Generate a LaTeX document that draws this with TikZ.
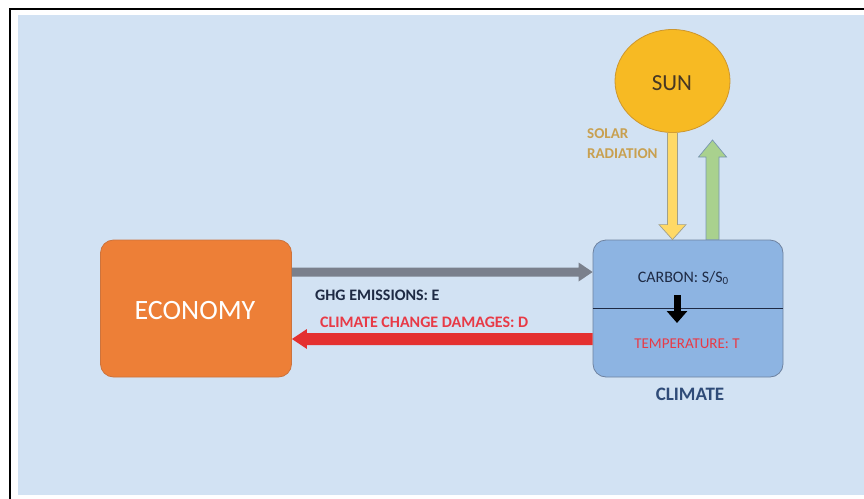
\documentclass[tikz,border=0pt]{standalone}
\usepackage{fontspec}
\setmainfont{Carlito}
\usetikzlibrary{calc,arrows.meta,shapes.geometric}
\definecolor{panel}{RGB}{210,226,243}
\definecolor{ecofill}{RGB}{237,127,55}
\definecolor{ecoline}{RGB}{205,115,60}
\definecolor{climfill}{RGB}{141,180,226}
\definecolor{climline}{RGB}{110,130,160}
\definecolor{sunfill}{RGB}{247,186,35}
\definecolor{sunline}{RGB}{205,150,45}
\definecolor{yfill}{RGB}{255,217,102}
\definecolor{yline}{RGB}{160,160,140}
\definecolor{gfill}{RGB}{169,209,142}
\definecolor{gline}{RGB}{120,150,175}
\definecolor{grayarr}{RGB}{122,128,140}
\definecolor{redarr}{RGB}{228,48,48}
\definecolor{navy}{RGB}{30,42,68}
\definecolor{climtxt}{RGB}{47,75,120}
\definecolor{suntxt}{RGB}{70,55,35}
\definecolor{solartxt}{RGB}{200,160,80}
\definecolor{redtxt}{RGB}{232,58,70}
\begin{document}
\begin{tikzpicture}[x=1pt,y=-1pt,
  box/.style={rounded corners=13pt, minimum width=191pt, minimum height=137pt, inner sep=0pt, line width=0.8pt},
  ecobox/.style={box, fill=ecofill, draw=ecoline},
  climbox/.style={box, fill=climfill, draw=climline, minimum width=190pt},
  lbl/.style={inner sep=0pt, font=\bfseries\fontsize{16}{20}\selectfont}
]
\useasboundingbox (0,0) rectangle (864,498);
\clip (0,0) rectangle (864,498);
\fill[white] (0,0) rectangle (864,498);
\draw[line width=2pt] (9.5,8.5) rectangle (890,530);
\fill[panel] (18,15) rectangle (880,495);

% nodes
\node[ecobox] (eco) at (196,308.5) {};
\node[inner sep=0pt, anchor=base, text=white, font=\fontsize{28}{30}\selectfont] (ecot) at (195,319) {ECONOMY};
\node[climbox] (clim) at (688,308.5) {};
\draw[line width=1.2pt, navy] (clim.west) -- (clim.east);
\node[ellipse, minimum width=115pt, minimum height=103pt, inner sep=0pt, fill=sunfill, draw=sunline, line width=0.8pt] (sun) at (672.5,81) {};
\node[inner sep=0pt, anchor=base, text=suntxt, font=\fontsize{23}{26}\selectfont] (sunt) at (672,90) {SUN};

\node[inner sep=0pt, anchor=base, text=navy, font=\fontsize{16}{18}\selectfont] (carb) at (683,282) {CARBON: S/S\raisebox{-2.5pt}{\fontsize{11}{11}\selectfont 0}};
\node[inner sep=0pt, anchor=base, text=redtxt, font=\fontsize{15}{18}\selectfont] (temp) at (687,348) {TEMPERATURE: T};
\node[inner sep=0pt, anchor=base, text=climtxt, font=\bfseries\fontsize{19}{22}\selectfont] (climt) at (690,400) {CLIMATE};

\node[lbl, anchor=base west, text=navy] (ghg) at (315,300) {GHG EMISSIONS: E};
\node[lbl, anchor=base west, text=redtxt] (dmg) at (320,327) {CLIMATE CHANGE DAMAGES: D};
\node[lbl, anchor=base west, text=solartxt, align=left, font=\bfseries\fontsize{15}{20}\selectfont] (solar) at (587,158) {SOLAR\\RADIATION};

% black arrow carbon -> temperature
\draw[line width=7pt, -{Triangle[length=12pt,width=20pt]}] ($(clim.center)+(-11,-13.5)$) -- ($(clim.center)+(-11,14.5)$);

% yellow arrow sun -> climate
\coordinate (ya) at (sun.south);
\coordinate (yb) at (sun.south |- clim.north);
\fill[yfill] ($(ya)+(-5,0)$) -- ($(yb)+(-5,-15)$) -- ($(yb)+(-13.5,-15)$) -- (yb) -- ($(yb)+(13.5,-15)$) -- ($(yb)+(5,-15)$) -- ($(ya)+(5,0)$) -- cycle;
\draw[yline, line width=0.7pt] ($(ya)+(-5,0)$) -- ($(yb)+(-5,-15)$) -- ($(yb)+(-13.5,-15)$) -- (yb) -- ($(yb)+(13.5,-15)$) -- ($(yb)+(5,-15)$) -- ($(ya)+(5,0)$);

% green arrow climate -> up
\coordinate (gb) at ($(clim.north)+(24.5,0)$);
\coordinate (gt) at (712.5,140);
\filldraw[fill=gfill, draw=gline, line width=0.7pt] ($(gb)+(-6.5,0)$) -- ($(gt)+(-6.5,17)$) -- ($(gt)+(-14,17)$) -- (gt) -- ($(gt)+(14,17)$) -- ($(gt)+(6.5,17)$) -- ($(gb)+(6.5,0)$) -- cycle;

% gray arrow economy -> climate
\coordinate (ea) at ($(eco.east)+(0,-36.5)$);
\coordinate (eb) at ($(clim.west)+(0,-36.5)$);
\fill[grayarr] ($(ea)+(0,-4.5)$) -- ($(eb)+(-14,-4.5)$) -- ($(eb)+(-14,-9.5)$) -- (eb) -- ($(eb)+(-14,9.5)$) -- ($(eb)+(-14,4.5)$) -- ($(ea)+(0,4.5)$) -- cycle;

% red arrow climate -> economy
\coordinate (da) at ($(clim.west)+(0,30.5)$);
\coordinate (db) at ($(eco.east)+(0,30.5)$);
\fill[redarr] ($(da)+(0,-6)$) -- ($(db)+(15,-6)$) -- ($(db)+(15,-10)$) -- (db) -- ($(db)+(15,10)$) -- ($(db)+(15,6)$) -- ($(da)+(0,6)$) -- cycle;
\end{tikzpicture}
\end{document}
